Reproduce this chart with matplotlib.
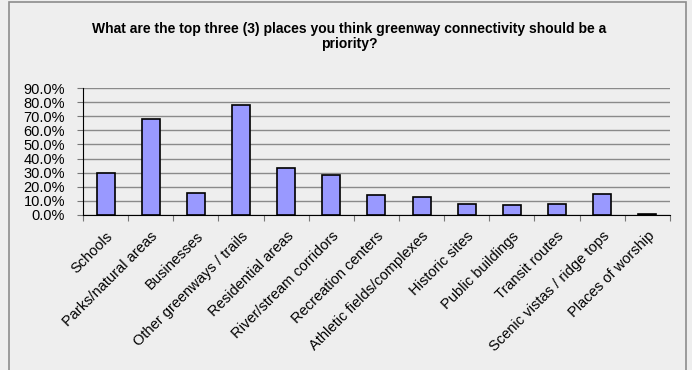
import matplotlib.pyplot as plt
from matplotlib.patches import Rectangle
from matplotlib.ticker import PercentFormatter

categories = ["Schools", "Parks/natural areas", "Businesses", "Other greenways / trails",
              "Residential areas", "River/stream corridors", "Recreation centers",
              "Athletic fields/complexes", "Historic sites", "Public buildings",
              "Transit routes", "Scenic vistas / ridge tops", "Places of worship"]
share = [30.0, 68.2, 15.4, 78.2, 33.4, 28.5, 14.2, 13.0, 8.1, 6.9, 8.1, 15.2, 1.0]
yticks = [0, 10, 20, 30, 40, 50, 60, 70, 80, 90]

bg = "#eeeeee"
plt.rcParams['font.family'] = ['Liberation Sans', 'DejaVu Sans']

fig = plt.figure(figsize=(6.92, 3.70), dpi=100, facecolor=bg)
ax = fig.add_axes([0.120, 0.419, 0.848, 0.343], facecolor=bg)

# outer chart frame
fig.patches.append(Rectangle((9 / 692, -0.05), 677 / 692, 1.044, transform=fig.transFigure,
                             fill=False, edgecolor="#8c8c8c", linewidth=1.2))

x = range(len(categories))
ax.bar(x, share, width=0.4, color="#9999ff", edgecolor="black", linewidth=1.2, zorder=3)

ax.set_xlim(-0.5, len(categories) - 0.5)
ax.set_ylim(0, 90)
ax.set_yticks(yticks)
ax.yaxis.set_major_formatter(PercentFormatter(decimals=1))
ax.set_xticks([i - 0.5 for i in range(len(categories) + 1)])
ax.set_xticklabels([])
ax.set_xticks(list(x), minor=True)
ax.set_xticklabels(categories, minor=True, rotation=45, ha="right", rotation_mode="anchor",
                   fontsize=10.5)
ax.tick_params(axis="x", which="minor", length=0, pad=10)
ax.tick_params(axis="x", which="major", length=4, color="#777777")
ax.tick_params(axis="y", length=4, labelsize=10.5, pad=9, color="#777777")
ax.grid(axis="y", color="#8a8a8a", linewidth=1.0, zorder=0)

for s in ["top", "right"]:
    ax.spines[s].set_visible(False)
ax.spines["left"].set_color("black")
ax.spines["bottom"].set_color("black")

fig.text(0.505, 0.94, "What are the top three (3) places you think greenway connectivity should be a\npriority?",
         ha="center", va="top", fontsize=10, fontweight="bold", linespacing=1.05)

fig.savefig("out.png", dpi=100, facecolor=bg)
